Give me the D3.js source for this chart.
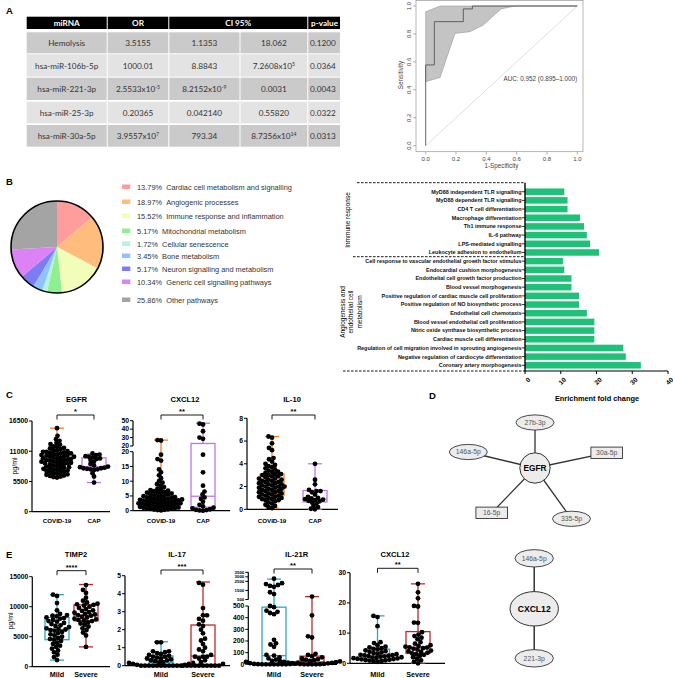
<!DOCTYPE html>
<html><head><meta charset="utf-8">
<script src="https://cdn.jsdelivr.net/npm/d3@7/dist/d3.min.js"></script>
<style>html,body{margin:0;padding:0;background:#fff}svg{display:block}</style>
</head><body>
<svg id="chart" width="673" height="678"></svg>
<script>
// ================= DATA =================
const tableHeaders = ["miRNA", "OR", "CI 95%", "p-value"];
const tableMiRNA = ["Hemolysis", "hsa-miR-106b-5p", "hsa-miR-221-3p", "hsa-miR-25-3p", "hsa-miR-30a-5p"];
const tableOR = ["3.5155", "1000.01", "2.5533x10^-5", "0.20365", "3.9557x10^7"];
const tableCILow = ["1.1353", "8.8843", "8.2152x10^-9", "0.042140", "793.34"];
const tableCIHigh = ["18.062", "7.2608x10^5", "0.0031", "0.55820", "8.7356x10^14"];
const tablePValue = ["0.1200", "0.0364", "0.0043", "0.0322", "0.0313"];

const rocFpr = [0, 0, 0.057, 0.057, 0.248, 0.248, 0.308, 0.308, 1];
const rocTpr = [0, 0.578, 0.578, 0.888, 0.888, 0.979, 0.979, 1, 1];
const rocUpperFpr = [0, 0.095, 1];
const rocUpperTpr = [0.959, 1, 1];
const rocLowerFpr = [0, 0.095, 0.193, 0.292, 0.38, 0.497, 0.589, 1];
const rocLowerTpr = [0.458, 0.489, 0.804, 0.816, 0.864, 0.979, 1, 1];
const rocTicks = [0, 0.2, 0.4, 0.6, 0.8, 1.0];
const rocAUC = "AUC: 0.952 (0.895\u20131.000)";

const pieLabels = ["Cardiac cell metabolism and signalling", "Angiogenic processes", "Immune response and inflammation", "Mitochondrial metabolism", "Cellular senescence", "Bone metabolism", "Neuron signalling and metabolism", "Generic cell signalling pathways", "Other pathways"];
const piePercents = [13.79, 18.97, 15.52, 5.17, 1.72, 3.45, 5.17, 10.34, 25.86];
const pieColors = ["#ff9c9c", "#ffbc7c", "#f1fdb8", "#8ef08e", "#b2f4dc", "#90c2ff", "#7c7cf4", "#dd82f4", "#a4a4a4"];

const barLabels = ["MyD88 independent TLR signalling", "MyD88 dependent TLR signalling", "CD4 T cell differentiation", "Macrophage differentiation", "Th1 immune response", "IL-6 pathway", "LPS-mediated signalling", "Leukocyte adhesion to endothelium",
  "Cell response to vascular endothelial growth factor stimulus", "Endocardial cushion morphogenesis", "Endothelial cell growth factor production", "Blood vessel morphogenesis", "Positive regulation of cardiac muscle cell proliferation", "Positive regulation of NO biosynthetic process", "Endothelial cell chemotaxis", "Blood vessel endothelial cell proliferation", "Nitric oxide synthase biosynthetic process", "Cardiac muscle cell differentiation", "Regulation of cell migration involved in sprouting angiogenesis", "Negative regulation of cardiocyte differentiation", "Coronary artery morphogenesis"];
const barValues = [11.0, 11.9, 11.9, 15.4, 16.5, 17.3, 18.2, 20.7, 10.6, 11.0, 13.0, 13.0, 15.1, 15.1, 17.3, 19.4, 19.4, 19.4, 27.5, 28.2, 32.4];
const barTicks = [0, 10, 20, 30, 40];
const barGroups = ["Inmmune response", "Angiogenesis and|endothelial cell|metabolism"];

// Panel C
const egfrCovid = [15200,13800,13200,12900,12500,12300,12200,11900,11800,11600,11500,11400,11200,11100,11000,10900,10900,10800,10700,10600,10600,10500,10400,10300,10300,10200,10100,10000,10000,9900,9800,9700,9700,9600,9500,9400,9400,9300,9200,9100,9100,9000,8900,8800,8800,8700,8600,8500,8400,8300,8200,8100,8000,7900,7800,7800,7700,7600,7500,7400,7300,7200,7100,7000,6900,6800,6700,6600,6500,6400,6300,6200];
const egfrCap = [10600,10400,10300,10100,10000,9900,9700,9600,9400,9100,8700,8400,8200,8100,8000,7900,7900,7800,7700,7700,7600,7000,6400,5300];
const egfrCovidBox = [6200, 7600, 9100, 10000, 15200];
const egfrCapBox = [5300, 7800, 8200, 9800, 10500];

const cxcl12Covid = [27,26.5,19,17.5,17,14,13,12,11,10,9.5,9,8.5,8,7.5,7.2,7,6.8,6.6,6.4,6.3,6.1,6,5.8,5.6,5.5,5.3,5.2,5,4.9,4.8,4.6,4.5,4.4,4.3,4.1,4,3.9,3.8,3.8,3.7,3.6,3.5,3.4,3.3,3.2,3.1,3,2.9,2.8,2.7,2.6,2.5,2.5,2.4,2.3,2.2,2.1,2,1.9,1.8,1.7,1.6,1.5,1.4,1.3,1.2,1.1,1,0.9,0.8,0.7,0.6,0.5,0.4,0.3,0.2,0.1];
const cxcl12Cap = [46.5,45.5,37.5,30,28.5,19,13,8.5,6.5,5.5,4.5,4,3,2,1.5,1,0.8,0.5,0.3,0.2,0.1,0];
const cxcl12CovidBox = [0, 2.5, 3.9, 6.4, 27];
const cxcl12CapBox = [0, 1.2, 4.9, 23, 47];

const il10Covid = [6.4,6.3,5.8,5.4,5.2,4.5,4.4,4.2,4,3.9,3.8,3.7,3.6,3.5,3.4,3.3,3.3,3.2,3.1,3.1,3,3,2.9,2.9,2.8,2.7,2.7,2.6,2.6,2.5,2.5,2.4,2.4,2.3,2.3,2.2,2.2,2.1,2.1,2,2,2,1.9,1.9,1.8,1.8,1.7,1.7,1.6,1.6,1.5,1.5,1.4,1.4,1.3,1.3,1.2,1.2,1.1,1.1,1,1,0.9,0.9,0.8,0.8,0.7,0.6,0.5,0.4,0.3,0.2,0.1];
const il10Cap = [4,2.6,2.2,1.7,1.6,1.6,1.5,1.3,1.1,1,0.95,0.9,0.85,0.8,0.75,0.7,0.6,0.5,0.3,0.2,0.05,0];
const il10CovidBox = [0.1, 1.25, 2.1, 3.1, 6.4];
const il10CapBox = [0, 0.65, 0.9, 1.65, 4];

// Panel E
const timp2Mild = [12000,11800,10600,9400,8800,8600,8500,8400,8200,8100,8000,7800,7600,7500,7300,7100,6900,6800,6600,6400,6300,6200,6100,6000,5800,5600,5400,5200,5000,4800,4600,4500,4300,4000,3800,3500,3300,3000,2700,2400,2000,1600,1100];
const timp2Severe = [13600,12800,12300,11500,11000,10700,10500,10400,10300,10200,10000,9800,9600,9400,9300,9100,9000,8800,8700,8600,8500,8300,8200,8000,7900,7800,7700,7600,7400,7200,7000,6700,6400,6100,5700,5200,3300];
const timp2MildBox = [1100, 4500, 6200, 8200, 12000];
const timp2SevereBox = [3300, 7650, 8600, 10300, 13700];

const il17Mild = [1.3,1.3,0.8,0.8,0.75,0.7,0.65,0.6,0.55,0.5,0.5,0.45,0.4,0.4,0.35,0.3,0.3,0.25,0.2,0.2,0.15,0.15,0.1,0.1,0.05,0.05,0,0,0,0,0,0,0,0,0,0,0];
const il17Severe = [4.6,4.5,3.2,2.8,2.8,2.6,2.5,2.3,2.2,2,1.8,1.5,1.4,1.2,1,0.9,0.8,0.6,0.5,0.5,0.5,0.4,0.3,0.2,0.1,0,0,0,0,0,0,0,0,0,0];
const il17MildBox = [0, 0.03, 0.17, 0.54, 1.33];
const il17SevereBox = [0, 0.05, 0.54, 2.26, 4.65];

const il21rMild = [2800,2300,2200,2100,2000,1900,1300,1100,500,490,460,450,440,430,210,180,170,150,80,75,60,50,40,30,25,20,15,10,5,3,2,1,0,0,0,0,0,0,0];
const il21rSevere = [820,420,240,230,90,80,70,60,50,45,40,35,30,28,25,20,18,15,12,10,8,5,3,2,1,0,0,0,0];
const il21rMildBox = [0, 2, 74, 490, 2750];
const il21rSevereBox = [0, 5, 20, 70, 820];

const cxcl12Mild = [15.7,15.3,12.3,7,6.7,6,5.5,5.3,5,4.8,4.6,4.3,4,3.8,3.6,3.4,3.2,3,2.8,2.7,2.6,2.5,2.4,2.3,2.2,2,1.9,1.8,1.7,1.6,1.5,1.4,1.3,1.2,1.1,1,0.9,0.8,0.6,0.5];
const cxcl12Severe = [26.3,23.5,21.5,19,18.8,13.5,13.4,10.3,9.5,9,8.5,8,7,6.5,6,5.8,5.5,5.3,5.2,5,4.8,4.5,4.2,4,3.8,3.5,3.3,3,2.8,2.5,2,1.5,1,0.5,0];
const cxcl12MildBox = [0.5, 1.1, 2.5, 4.7, 15.7];
const cxcl12SevereBox = [0, 3.3, 5.3, 10.5, 26.3];

// Networks
const egfrTargets = ["27b-3p", "146a-5p", "30a-5p", "16-5p", "335-5p"];
const egfrTargetShapes = ["ellipse", "ellipse", "rect", "rect", "ellipse"];
const cxcl12Targets = ["146a-5p", "221-3p"];

// ================= DRAWING =================
const FONT = "'Liberation Sans', Arial, sans-serif";
const svg = d3.select("#chart").style("font-family", FONT);

[["A", 6, 14], ["B", 6, 185], ["C", 6, 398], ["D", 429, 399], ["E", 6, 558]].forEach(([t, x, y]) => {
  svg.append("text").attr("x", x).attr("y", y).attr("font-size", 9.5).attr("font-weight", "bold").text(t);
});

// ---------- Table ----------
(function () {
  const g = svg.append("g");
  svg.append("defs").append("clipPath").attr("id", "tclip").append("rect").attr("x", 0).attr("y", 0).attr("width", 340).attr("height", 160);
  g.attr("clip-path", "url(#tclip)").style("font-family", "Lato, 'Open Sans', sans-serif");
  const hdrCols = [[26.7, 106.7], [107.7, 168.3], [169.3, 307.3], [308.3, 370]];
  const cols = [[26.7, 106.7], [107.7, 168.3], [169.3, 239.5], [240.5, 307.3], [308.3, 370]];
  const rowsY = [[32.3, 53.3], [54.3, 76.7], [77.7, 100], [101.7, 123.3], [125, 146.7]];
  hdrCols.forEach((c, i) => {
    g.append("rect").attr("x", c[0]).attr("y", 16.7).attr("width", c[1] - c[0]).attr("height", 12.3).attr("fill", "#000");
    const t = g.append("text").attr("y", 25.8).attr("fill", "#fff").attr("font-weight", "bold").attr("font-size", 8.2).text(tableHeaders[i]);
    if (i === 3) t.attr("x", 311); else t.attr("x", (c[0] + c[1]) / 2).attr("text-anchor", "middle");
  });
  const colsData = [tableMiRNA, tableOR, tableCILow, tableCIHigh, tablePValue];
  rowsY.forEach((ry, r) => {
    cols.forEach((c, ci) => {
      g.append("rect").attr("x", c[0]).attr("y", ry[0]).attr("width", c[1] - c[0]).attr("height", ry[1] - ry[0])
        .attr("fill", r % 2 === 0 ? "#cacaca" : "#e3e3e3");
      const s = colsData[ci][r];
      const t = g.append("text").attr("y", (ry[0] + ry[1]) / 2 + 3).attr("font-size", 8.2).attr("fill", "#333");
      if (ci === 4) t.attr("x", 310); else t.attr("x", (c[0] + c[1]) / 2).attr("text-anchor", "middle");
      const parts = s.split("^");
      t.append("tspan").text(parts[0]);
      if (parts[1]) t.append("tspan").attr("dy", -3).attr("font-size", 5.2).text(parts[1]);
    });
  });
})();

// ---------- ROC ----------
(function () {
  const g = svg.append("g");
  const x = d3.scaleLinear([0, 1], [425.7, 577.3]);
  const y = d3.scaleLinear([0, 1], [145.7, 6]);
  g.append("rect").attr("x", 416).attr("y", 0.5).attr("width", 167).attr("height", 151.2).attr("fill", "none").attr("stroke", "#999").attr("stroke-width", 0.7);
  const band = rocUpperFpr.map((f, i) => [x(f), y(rocUpperTpr[i])])
    .concat(rocLowerFpr.map((f, i) => [x(f), y(rocLowerTpr[i])]).reverse());
  g.append("path").attr("d", d3.line()(band) + "Z").attr("fill", "#c4c4c4").attr("stroke", "#8a8a8a").attr("stroke-width", 0.5);
  g.append("line").attr("x1", x(0)).attr("y1", y(0)).attr("x2", x(1)).attr("y2", y(1)).attr("stroke", "#c8c8c8").attr("stroke-width", 0.6);
  g.append("path").attr("d", d3.line()(rocFpr.map((f, i) => [x(f), y(rocTpr[i])]))).attr("fill", "none").attr("stroke", "#555").attr("stroke-width", 0.9);
  rocTicks.forEach(t => {
    g.append("line").attr("x1", x(t)).attr("x2", x(t)).attr("y1", 151.7).attr("y2", 154.5).attr("stroke", "#777").attr("stroke-width", 0.6);
    g.append("text").attr("x", x(t)).attr("y", 160.5).attr("text-anchor", "middle").attr("font-size", 6).attr("fill", "#444").text(t.toFixed(1));
    g.append("line").attr("x1", 416).attr("x2", 413.2).attr("y1", y(t)).attr("y2", y(t)).attr("stroke", "#777").attr("stroke-width", 0.6);
    g.append("text").attr("transform", `translate(410.5,${y(t)}) rotate(-90)`).attr("text-anchor", "middle").attr("font-size", 6).attr("fill", "#444").text(t.toFixed(1));
  });
  g.append("text").attr("x", 501.5).attr("y", 168).attr("text-anchor", "middle").attr("font-size", 6.3).attr("fill", "#444").text("1-Specificity");
  g.append("text").attr("transform", "translate(403,75) rotate(-90)").attr("text-anchor", "middle").attr("font-size", 6.3).attr("fill", "#444").text("Sensitivity");
  g.append("text").attr("x", 577).attr("y", 80.5).attr("text-anchor", "end").attr("font-size", 6.3).attr("fill", "#444").text(rocAUC);
})();

// ---------- Pie ----------
(function () {
  const g = svg.append("g").attr("transform", "translate(57,247)");
  const arcs = d3.pie().sort(null).value(d => d)(piePercents);
  const arc = d3.arc().innerRadius(0).outerRadius(46);
  g.selectAll("path").data(arcs).join("path").attr("d", arc).attr("fill", (d, i) => pieColors[i]);
  g.append("circle").attr("r", 46).attr("fill", "none").attr("stroke", "#000").attr("stroke-width", 1.6);
  const legendY = [187, 202, 216, 231, 244, 256, 269, 282, 300];
  pieLabels.forEach((l, i) => {
    svg.append("rect").attr("x", 122).attr("y", legendY[i] - 2.5).attr("width", 8.3).attr("height", 4.5).attr("fill", pieColors[i]);
    svg.append("text").attr("x", 137).attr("y", legendY[i] + 2.6).attr("font-size", 7.4).attr("fill", "#333")
      .text(piePercents[i].toFixed(2) + "%\u00a0\u00a0" + l);
  });
})();

// ---------- Bar chart ----------
(function () {
  const g = svg.append("g");
  const x = d3.scaleLinear([0, 40], [525, 668]);
  const y = d3.scaleBand().domain(barLabels).range([187.36, 369.64]).paddingInner(0.25).paddingOuter(0.125);
  g.selectAll("rect.bar").data(barValues).join("rect").attr("class", "bar")
    .attr("x", x(0)).attr("y", (d, i) => y(barLabels[i])).attr("width", d => x(d) - x(0)).attr("height", y.bandwidth()).attr("fill", "#1ec177");
  barLabels.forEach(l => {
    const cy = y(l) + y.bandwidth() / 2;
    g.append("line").attr("x1", 521.8).attr("x2", 525).attr("y1", cy).attr("y2", cy).attr("stroke", "#000").attr("stroke-width", 0.8);
    g.append("text").attr("x", 521.5).attr("y", cy + 1.9).attr("text-anchor", "end").attr("font-size", 5.45).attr("font-weight", "bold").attr("fill", "#111").text(l);
  });
  [[357, 182.7], [353, 256.7], [343, 371]].forEach(([x0, yy]) => {
    g.append("line").attr("x1", x0).attr("x2", 525).attr("y1", yy).attr("y2", yy).attr("stroke", "#000").attr("stroke-width", 0.9).attr("stroke-dasharray", "2.6,1.4");
  });
  g.append("line").attr("x1", 525).attr("x2", 525).attr("y1", 182.7).attr("y2", 371.5).attr("stroke", "#000").attr("stroke-width", 1.4);
  g.append("line").attr("x1", 525).attr("x2", 668).attr("y1", 371).attr("y2", 371).attr("stroke", "#000").attr("stroke-width", 1.2);
  barTicks.forEach(t => {
    g.append("line").attr("x1", x(t)).attr("x2", x(t)).attr("y1", 371).attr("y2", 374).attr("stroke", "#000").attr("stroke-width", 1);
    g.append("text").attr("transform", `translate(${x(t) + 2.5},${377}) rotate(-45)`).attr("text-anchor", "end").attr("dy", "0.7em").attr("font-size", 6.5).attr("font-weight", "bold").text(t);
  });
  g.append("text").attr("x", 597).attr("y", 401).attr("text-anchor", "middle").attr("font-size", 7.4).attr("font-weight", "bold").text("Enrichment fold change");
  g.append("text").attr("transform", "translate(347,220) rotate(-90)").attr("text-anchor", "middle").attr("dominant-baseline", "central").attr("font-size", 6.5).text(barGroups[0]);
  barGroups[1].split("|").forEach((line, i) => {
    g.append("text").attr("transform", `translate(${342 + i * 8.8},312) rotate(-90)`).attr("text-anchor", "middle").attr("dominant-baseline", "central").attr("font-size", 6.5).text(line);
  });
})();

// ---------- Box/swarm panels ----------
function swarm(pys, cx, d) {
  const idx = pys.map((v, i) => i).sort((a, b) => pys[b] - pys[a]);
  const placed = [], xs = new Array(pys.length);
  for (const i of idx) {
    const yy = pys[i];
    let best = cx;
    for (let k = 0; k < 400; k++) {
      const off = (k % 2 === 0 ? 1 : -1) * Math.ceil(k / 2) * 0.5;
      const xx = cx + off;
      let ok = true;
      for (const p of placed) { const dx = p[0] - xx, dy = p[1] - yy; if (dx * dx + dy * dy < d * d) { ok = false; break; } }
      if (ok) { best = xx; break; }
    }
    xs[i] = best; placed.push([best, yy]);
  }
  return xs;
}

function boxPanel(p) {
  const g = svg.append("g");
  const segs = p.segs.map(s => ({ s, sc: d3.scaleLinear(s.d, s.r) }));
  const yf = v => { for (const q of segs) if (v <= q.s.d[1]) return q.sc(v); return segs[segs.length - 1].sc(v); };
  const y0 = yf(0);
  segs.forEach(q => {
    g.append("line").attr("x1", p.ax).attr("x2", p.ax).attr("y1", q.s.r[0]).attr("y2", q.s.r[1]).attr("stroke", "#000").attr("stroke-width", 1.2);
    q.s.t.forEach(t => {
      g.append("line").attr("x1", p.ax - 3).attr("x2", p.ax).attr("y1", q.sc(t)).attr("y2", q.sc(t)).attr("stroke", "#000").attr("stroke-width", 1);
      const fs = q.s.fs || 6.8;
      g.append("text").attr("x", p.ax - 4).attr("y", q.sc(t) + fs * 0.34).attr("text-anchor", "end").attr("font-size", fs).attr("font-weight", "bold").text(t);
    });
  });
  g.append("line").attr("x1", p.ax).attr("x2", p.xEnd).attr("y1", y0).attr("y2", y0).attr("stroke", "#000").attr("stroke-width", 1.2);
  g.append("text").attr("x", p.titleX).attr("y", p.titleY).attr("text-anchor", "middle").attr("font-size", 7.6).attr("font-weight", "bold").text(p.title);
  const [c1, c2] = p.cxs;
  g.append("path").attr("d", `M${c1},${p.sigY + 4.5}V${p.sigY}H${c2}V${p.sigY + 4.5}`).attr("fill", "none").attr("stroke", "#000").attr("stroke-width", 0.9);
  g.append("text").attr("x", (c1 + c2) / 2).attr("y", p.sigY - 1.2).attr("text-anchor", "middle").attr("font-size", 7.5).attr("font-weight", "bold").text(p.sig);
  p.groups.forEach((gr, gi) => {
    const cx = p.cxs[gi];
    const [mn, q1, md, q3, mx] = gr.box;
    const col = gr.color;
    const bw = 24, cw = 14;
    const ln = (x1, y1, x2, y2) => g.append("line").attr("x1", x1).attr("y1", y1).attr("x2", x2).attr("y2", y2).attr("stroke", col).attr("stroke-width", 1.3);
    ln(cx, yf(q3), cx, yf(mx)); ln(cx - cw / 2, yf(mx), cx + cw / 2, yf(mx));
    ln(cx, yf(q1), cx, yf(mn)); ln(cx - cw / 2, yf(mn), cx + cw / 2, yf(mn));
    g.append("rect").attr("x", cx - bw / 2).attr("y", yf(q3)).attr("width", bw).attr("height", yf(q1) - yf(q3)).attr("fill", "none").attr("stroke", col).attr("stroke-width", 1.3);
    ln(cx - bw / 2, yf(md), cx + bw / 2, yf(md));
    const pys = gr.vals.map(yf);
    const xs = swarm(pys, cx, p.dd || 4);
    g.selectAll(null).data(gr.vals).join("circle").attr("cx", (d, i) => xs[i]).attr("cy", (d, i) => pys[i]).attr("r", 2.4).attr("fill", "#000");
    g.append("text").attr("x", cx).attr("y", p.labY).attr("text-anchor", "middle").attr("font-size", p.labFs).attr("font-weight", "bold").text(gr.label);
  });
}

const cCOV = "#ff7a1f", cCAP = "#c274ec", cMILD = "#2aa8c6", cSEV = "#c1282e";
boxPanel({ title: "EGFR", titleX: 76.5, titleY: 402, ax: 32, xEnd: 110, cxs: [57, 94], sigY: 415, sig: "*", labY: 523, labFs: 6.2, dd: 3.5,
  segs: [{ d: [0, 16500], r: [511.7, 421], t: [0, 5500, 11000, 16500] }],
  groups: [{ label: "COVID-19", vals: egfrCovid, box: egfrCovidBox, color: cCOV }, { label: "CAP", vals: egfrCap, box: egfrCapBox, color: cCAP }] });
boxPanel({ title: "CXCL12", titleX: 185, titleY: 402, ax: 133, xEnd: 230, cxs: [161, 203], sigY: 415, sig: "**", labY: 523, labFs: 6.2, dd: 3.5,
  segs: [{ d: [0, 20], r: [510.7, 451.7], t: [0, 5, 10, 15, 20] }, { d: [20, 50], r: [446, 420.7], t: [20, 30, 40, 50] }],
  groups: [{ label: "COVID-19", vals: cxcl12Covid, box: cxcl12CovidBox, color: cCOV }, { label: "CAP", vals: cxcl12Cap, box: cxcl12CapBox, color: cCAP }] });
boxPanel({ title: "IL-10", titleX: 292, titleY: 402, ax: 247, xEnd: 338, cxs: [272, 315], sigY: 415, sig: "**", labY: 523, labFs: 6.2, dd: 3.6,
  segs: [{ d: [0, 8], r: [509.3, 418.3], t: [0, 2, 4, 6, 8] }],
  groups: [{ label: "COVID-19", vals: il10Covid, box: il10CovidBox, color: cCOV }, { label: "CAP", vals: il10Cap, box: il10CapBox, color: cCAP }] });
boxPanel({ title: "TIMP2", titleX: 76, titleY: 557, ax: 32.3, xEnd: 110, cxs: [57, 86], sigY: 570.7, sig: "****", labY: 677, labFs: 7.2,
  segs: [{ d: [0, 15000], r: [666.7, 576.7], t: [0, 5000, 10000, 15000] }],
  groups: [{ label: "Mild", vals: timp2Mild, box: timp2MildBox, color: cMILD }, { label: "Severe", vals: timp2Severe, box: timp2SevereBox, color: cSEV }] });
boxPanel({ title: "IL-17", titleX: 177, titleY: 557, ax: 125, xEnd: 230, cxs: [161, 203], sigY: 570, sig: "***", labY: 677, labFs: 7.2,
  segs: [{ d: [0, 5], r: [665.7, 575.7], t: [0, 1, 2, 3, 4, 5] }],
  groups: [{ label: "Mild", vals: il17Mild, box: il17MildBox, color: cMILD }, { label: "Severe", vals: il17Severe, box: il17SevereBox, color: cSEV }] });
boxPanel({ title: "IL-21R", titleX: 296.7, titleY: 557, ax: 248.3, xEnd: 337, cxs: [274, 312], sigY: 569, sig: "**", labY: 677, labFs: 7.2,
  segs: [{ d: [0, 500], r: [664.3, 606], t: [0, 100, 200, 300, 400, 500] }, { d: [500, 3500], r: [599.5, 572.3], t: [500, 1500, 2500, 3000, 3500], fs: 4.4 }],
  groups: [{ label: "Mild", vals: il21rMild, box: il21rMildBox, color: cMILD }, { label: "Severe", vals: il21rSevere, box: il21rSevereBox, color: cSEV }] });
boxPanel({ title: "CXCL12", titleX: 395, titleY: 557, ax: 350, xEnd: 445, cxs: [377.5, 418], sigY: 568.3, sig: "**", labY: 677, labFs: 7.2,
  segs: [{ d: [0, 30], r: [663.3, 572.7], t: [0, 10, 20, 30] }],
  groups: [{ label: "Mild", vals: cxcl12Mild, box: cxcl12MildBox, color: cMILD }, { label: "Severe", vals: cxcl12Severe, box: cxcl12SevereBox, color: cSEV }] });

[[17, 466], [13, 621]].forEach(([x, y]) => svg.append("text").attr("transform", `translate(${x},${y}) rotate(-90)`).attr("text-anchor", "middle").attr("font-size", 7).text("pg/ml"));

// ---------- Networks ----------
(function () {
  const g = svg.append("g");
  const hub = { x: 535, y: 468, r: 15.2 };
  const pos = [[535, 422.5], [468.3, 452], [606.7, 452.8], [491.7, 512.8], [571.5, 518.8]];
  pos.forEach(p => g.append("line").attr("x1", hub.x).attr("y1", hub.y).attr("x2", p[0]).attr("y2", p[1]).attr("stroke", "#333").attr("stroke-width", 1.3));
  egfrTargets.forEach((t, i) => {
    const [cx, cy] = pos[i];
    if (egfrTargetShapes[i] === "rect") g.append("rect").attr("x", cx - 15.8).attr("y", cy - 5.7).attr("width", 31.6).attr("height", 11.4).attr("fill", "#ececec").attr("stroke", "#333").attr("stroke-width", 0.9);
    else g.append("ellipse").attr("cx", cx).attr("cy", cy).attr("rx", 19).attr("ry", 7.6).attr("fill", "#ececec").attr("stroke", "#333").attr("stroke-width", 0.9);
    g.append("text").attr("x", cx).attr("y", cy + 2.4).attr("text-anchor", "middle").attr("font-size", 6.8).attr("fill", "#555").text(t);
  });
  g.append("circle").attr("cx", hub.x).attr("cy", hub.y).attr("r", hub.r).attr("fill", "#ececec").attr("stroke", "#333").attr("stroke-width", 1);
  g.append("text").attr("x", hub.x).attr("y", hub.y + 3).attr("text-anchor", "middle").attr("font-size", 8.3).attr("font-weight", "bold").text("EGFR");

  const cx = 534.2;
  const ys = [558.3, 658.3];
  g.append("line").attr("x1", cx).attr("x2", cx).attr("y1", ys[0]).attr("y2", ys[1]).attr("stroke", "#333").attr("stroke-width", 1.5);
  cxcl12Targets.forEach((t, i) => {
    g.append("ellipse").attr("cx", cx).attr("cy", ys[i]).attr("rx", 19.2).attr("ry", 8.7).attr("fill", "#ececec").attr("stroke", "#333").attr("stroke-width", 0.9);
    g.append("text").attr("x", cx).attr("y", ys[i] + 2.4).attr("text-anchor", "middle").attr("font-size", 6.8).attr("fill", "#555").text(t);
  });
  g.append("ellipse").attr("cx", cx).attr("cy", 608.8).attr("rx", 24.2).attr("ry", 17.2).attr("fill", "#ececec").attr("stroke", "#333").attr("stroke-width", 1);
  g.append("text").attr("x", cx).attr("y", 612).attr("text-anchor", "middle").attr("font-size", 8.6).attr("font-weight", "bold").text("CXCL12");
})();
</script>
</body></html>
